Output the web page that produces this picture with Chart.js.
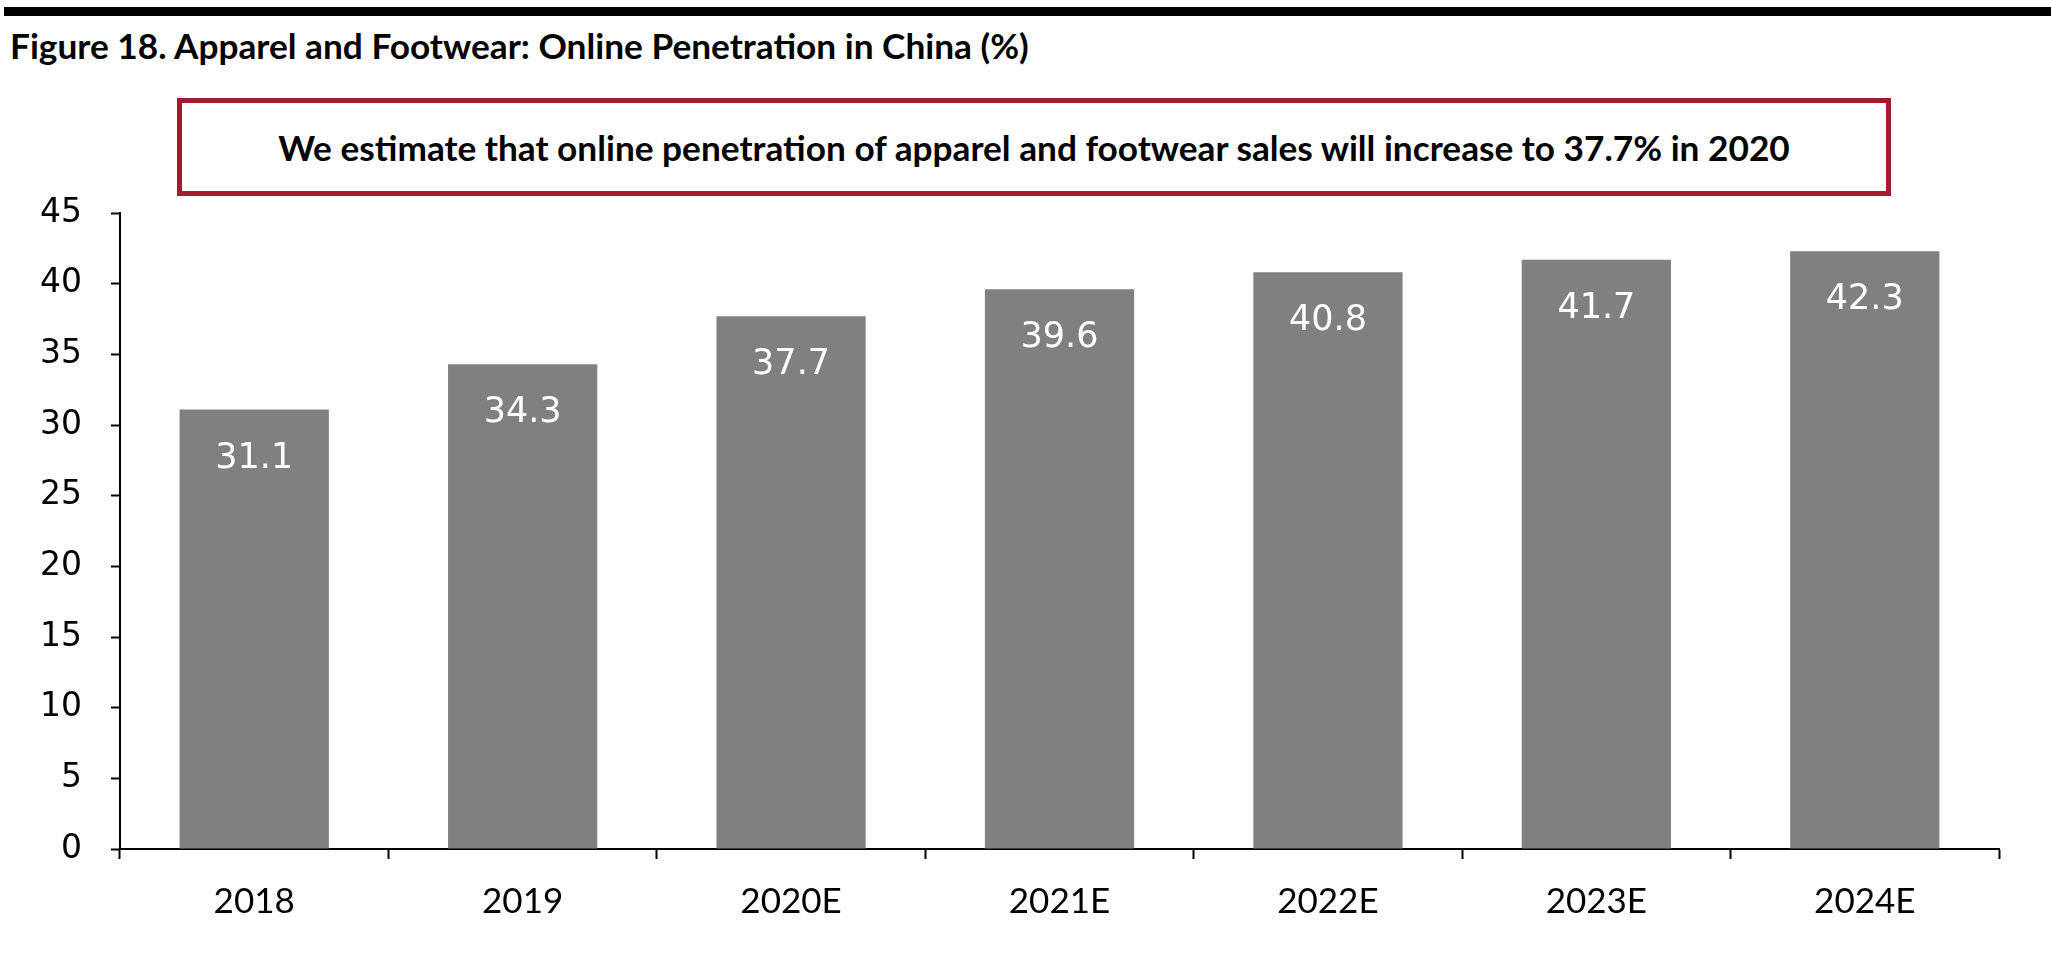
<!DOCTYPE html>
<html>
<head>
<meta charset="utf-8">
<script src="https://cdn.jsdelivr.net/npm/chart.js@4.4.1/dist/chart.umd.min.js"></script>
<style>
    html, body { margin: 0; padding: 0; background: #fff; }
    body { width: 2051px; height: 969px; position: relative; overflow: hidden; }
    #topRule { position: absolute; left: 4px; right: 0; top: 7px; height: 9px; background: #000; }
    #title {
        position: absolute; left: 10px; top: 28px;
        font-family: Lato, sans-serif; font-weight: bold; font-size: 30px;
        white-space: nowrap; color: #000; line-height: 36px;
    }
    #callout {
        position: absolute; left: 177px; top: 98px; width: 1704px; height: 88px;
        border: 5px solid #A6192E; display: flex; align-items: center; justify-content: center;
    }
    #callout span {
        font-family: Lato, sans-serif; font-weight: bold; font-size: 30px;
        white-space: nowrap; color: #000;
    }
    #chartWrap { position: absolute; left: 0; top: 0; width: 2051px; height: 969px; }
</style>
</head>
<body>
<div id="topRule"></div>
<div id="title">Figure 18. Apparel and Footwear: Online Penetration in China (%)</div>
<div id="callout"><span id="calloutText">We estimate that online penetration of apparel and footwear sales will increase to 37.7% in 2020</span></div>
<div id="chartWrap"><canvas id="penetrationChart" width="2051" height="969"></canvas></div>

<script>
// Chart data
const years = ['2018', '2019', '2020E', '2021E', '2022E', '2023E', '2024E'];
const penetration = [31.1, 34.3, 37.7, 39.6, 40.8, 41.7, 42.3];
const yTicks = [0, 5, 10, 15, 20, 25, 30, 35, 40, 45];

// Shrink or grow a text element so it spans the given width
function fitWidth(el, targetWidth) {
    const w = el.getBoundingClientRect().width;
    const size = parseFloat(getComputedStyle(el).fontSize);
    el.style.fontSize = (size * targetWidth / w).toFixed(2) + 'px';
}

// Draw value labels inside the top of each bar
const barLabels = {
    id: 'barLabels',
    afterDatasetsDraw(chart) {
        const ctx = chart.ctx;
        const meta = chart.getDatasetMeta(0);
        ctx.save();
        ctx.fillStyle = '#ffffff';
        ctx.font = '35px "DejaVu Sans"';
        ctx.textAlign = 'center';
        ctx.textBaseline = 'middle';
        meta.data.forEach((bar, i) => {
            ctx.fillText(penetration[i].toFixed(1), bar.x, bar.y + 49);
        });
        ctx.restore();
    }
};

function createChart() {
    const ctx = document.getElementById('penetrationChart').getContext('2d');
    new Chart(ctx, {
        type: 'bar',
        data: {
            labels: years,
            datasets: [{
                label: 'Online penetration (%)',
                data: penetration,
                backgroundColor: '#808080',
                barPercentage: 0.556,
                categoryPercentage: 1.0
            }]
        },
        options: {
            responsive: false,
            animation: false,
            layout: {
                padding: { top: 213, right: 52, bottom: 0, left: 0 }
            },
            plugins: {
                legend: { display: false },
                tooltip: { enabled: false }
            },
            scales: {
                x: {
                    grid: {
                        drawOnChartArea: false,
                        tickLength: 10,
                        tickWidth: 2,
                        tickColor: '#000'
                    },
                    border: { color: '#000', width: 2 },
                    ticks: {
                        color: '#000',
                        padding: 22,
                        font: { family: 'Lato', size: 35 }
                    },
                    afterFit: (scale) => { scale.height = 120; }
                },
                y: {
                    min: 0,
                    max: 45,
                    afterBuildTicks: (scale) => {
                        scale.ticks = yTicks.map(v => ({ value: v }));
                    },
                    grid: {
                        drawOnChartArea: false,
                        tickLength: 9,
                        tickWidth: 2,
                        tickColor: '#000'
                    },
                    border: { color: '#000', width: 2 },
                    ticks: {
                        color: '#000',
                        padding: 29,
                        font: { family: 'DejaVu Sans', size: 33 }
                    },
                    afterFit: (scale) => { scale.width = 120; }
                }
            }
        },
        plugins: [barLabels]
    });
}

document.addEventListener('DOMContentLoaded', () => {
    fitWidth(document.getElementById('title'), 1019);
    fitWidth(document.getElementById('calloutText'), 1512);
    createChart();
});
</script>
</body>
</html>
